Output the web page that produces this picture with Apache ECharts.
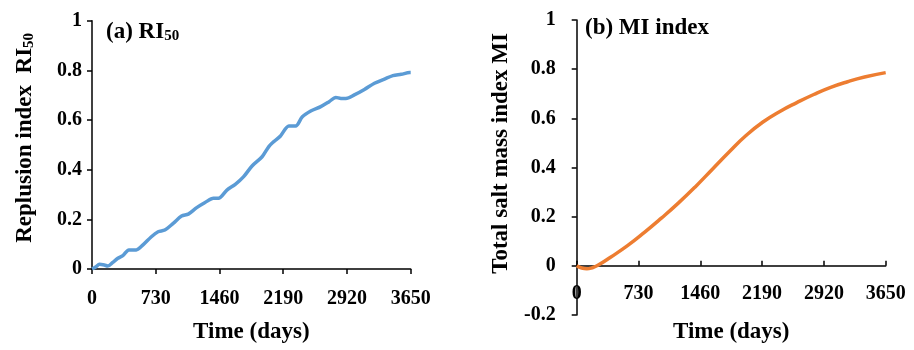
<!DOCTYPE html>
<html><head><meta charset="utf-8">
<script src="https://cdn.jsdelivr.net/npm/echarts@6/dist/echarts.min.js"></script>
<style>html,body{margin:0;padding:0;background:#fff}#c{width:914px;height:350px}</style>
</head><body><div id="c"></div>
<script>
// Panel (a): Replusion index RI50
const riDays = [0, 46, 85, 142, 180, 238, 296, 353, 423, 507, 584, 680, 757, 834, 930, 1026, 1103, 1199, 1295, 1391, 1448, 1545, 1641, 1737, 1833, 1948, 2025, 2082, 2159, 2255, 2332, 2409, 2505, 2620, 2716, 2793, 2851, 2908, 3004, 3120, 3235, 3350, 3446, 3542, 3638, 3650];
const riValues = [0.0, 0.009, 0.019, 0.016, 0.012, 0.027, 0.043, 0.054, 0.077, 0.077, 0.097, 0.13, 0.15, 0.157, 0.184, 0.213, 0.221, 0.247, 0.268, 0.285, 0.285, 0.318, 0.341, 0.372, 0.415, 0.452, 0.493, 0.513, 0.536, 0.576, 0.576, 0.613, 0.636, 0.654, 0.674, 0.691, 0.687, 0.687, 0.701, 0.723, 0.748, 0.765, 0.779, 0.784, 0.791, 0.791];
// Panel (b): Total salt mass index MI
const miDays = [0, 60, 120, 180, 250, 400, 600, 800, 1000, 1200, 1400, 1600, 1800, 2000, 2200, 2400, 2600, 2800, 3000, 3200, 3400, 3650];
const miValues = [0, -0.009, -0.012, -0.008, 0.002, 0.035, 0.082, 0.136, 0.194, 0.255, 0.321, 0.392, 0.463, 0.53, 0.585, 0.628, 0.664, 0.697, 0.726, 0.749, 0.768, 0.786];
const xTickLabels = ['0', '730', '1460', '2190', '2920', '3650'];
const xInterval = 730;

const FONT = '"Liberation Serif", "Times New Roman", serif';
const black = '#000';
const pairs = (xs, ys) => xs.map((x, i) => [x, ys[i]]);

const chart = echarts.init(document.getElementById('c'), null, {renderer: 'canvas'});
const tickLabel = {color: black, fontFamily: FONT, fontWeight: 'bold', fontSize: 20};
const nameStyle = {color: black, fontFamily: FONT, fontWeight: 'bold', fontSize: 23};
const richName = {
  n: {fontFamily: FONT, fontWeight: 'bold', fontSize: 23, color: black},
  s: {fontFamily: FONT, fontWeight: 'bold', fontSize: 15, color: black, verticalAlign: 'bottom', padding: [9, 0, 0, 0]}
};

const grid2 = {left: 576.7, top: 20, width: 309, height: 295};
const y2Min = -0.2, y2Max = 1;

function xAxisCfg(idx, inside, margin, gap, offset) {
  return {
    type: 'value', gridIndex: idx, min: 0, max: 3650, interval: xInterval, offset: offset,
    name: 'Time (days)', nameLocation: 'middle', nameGap: gap, nameTextStyle: nameStyle,
    axisLine: {show: true, onZero: false, lineStyle: {color: black, width: 1.5}},
    axisTick: {show: true, inside: inside, length: 5, lineStyle: {color: black, width: 1.5}},
    axisLabel: Object.assign({margin: margin, formatter: v => xTickLabels[Math.round(v / xInterval)]}, tickLabel),
    splitLine: {show: false}
  };
}
function yAxisCfg(idx, min, margin, name, gap, pad) {
  return {
    type: 'value', gridIndex: idx, min: min, max: 1, interval: 0.2,
    name: name, nameLocation: 'middle', nameGap: gap,
    nameTextStyle: Object.assign({padding: pad, rich: richName}, nameStyle),
    axisLine: {show: true, onZero: false, lineStyle: {color: black, width: 1.5}},
    axisTick: {show: true, inside: false, length: 5, lineStyle: {color: black, width: 1.5}},
    axisLabel: Object.assign({margin: margin, formatter: v => String(Math.round(v * 10) / 10)}, tickLabel),
    splitLine: {show: false}
  };
}

// the x axis of panel (b) crosses the y axis at 0
const x2Offset = -grid2.height * (0 - y2Min) / (y2Max - y2Min);

chart.setOption({
  animation: false,
  backgroundColor: '#fff',
  grid: [
    {left: 92, top: 20.7, width: 318.7, height: 248.3, containLabel: false, outerBoundsMode: 'none'},
    Object.assign({containLabel: false, outerBoundsMode: 'none'}, grid2)
  ],
  title: [
    {text: '{n|(a) RI}{s|50}', left: 101, top: 15, textStyle: {rich: richName}},
    {text: '(b) MI index', left: 580, top: 12, textStyle: {fontFamily: FONT, fontWeight: 'bold', fontSize: 23, color: black}}
  ],
  xAxis: [xAxisCfg(0, false, 20, 52, 0), xAxisCfg(1, true, 18, 55, x2Offset)],
  yAxis: [
    yAxisCfg(0, 0, 10, '{n|Replusion index  RI}{s|50}', 55, [0, 0, 0, 14]),
    yAxisCfg(1, y2Min, 21, '{n|Total salt mass index MI}', 64, [0, 0, 0, 28])
  ],
  series: [
    {type: 'line', xAxisIndex: 0, yAxisIndex: 0, data: pairs(riDays, riValues), showSymbol: false, smooth: 0.3,
     lineStyle: {color: '#5B9BD5', width: 3.5}, itemStyle: {color: '#5B9BD5'}},
    {type: 'line', xAxisIndex: 1, yAxisIndex: 1, data: pairs(miDays, miValues), showSymbol: false, smooth: true,
     lineStyle: {color: '#ED7D31', width: 3.5}, itemStyle: {color: '#ED7D31'}}
  ]
});
</script></body></html>
